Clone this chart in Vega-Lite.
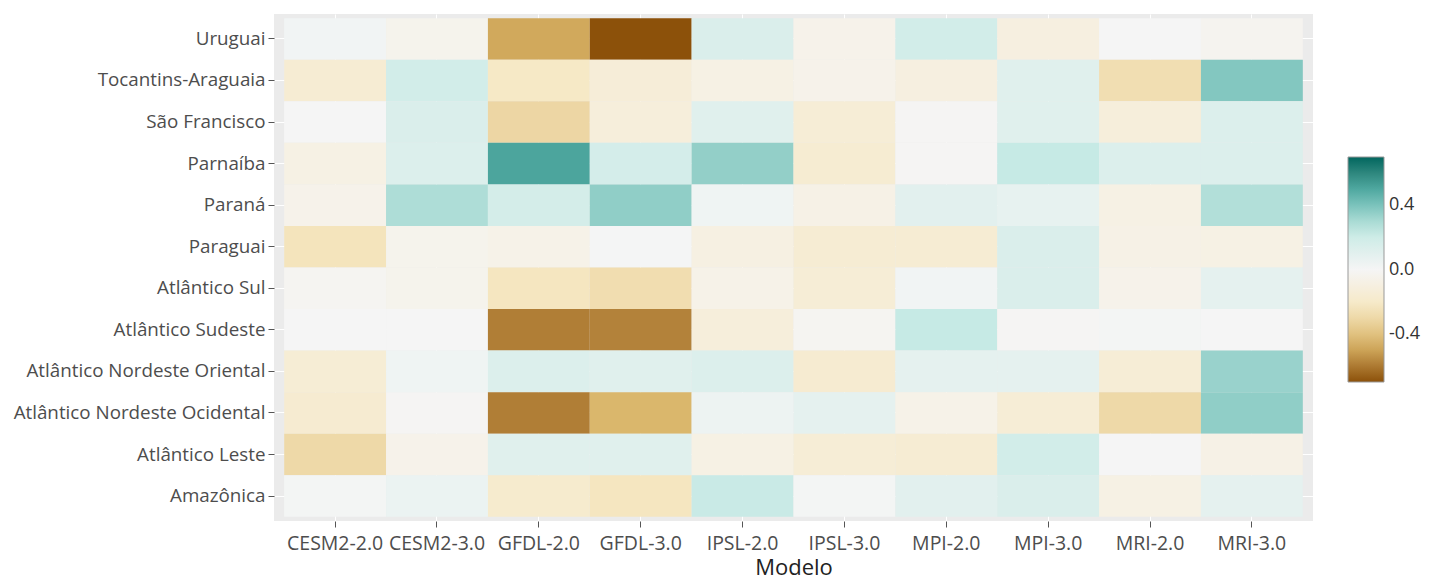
{
  "$schema": "https://vega.github.io/schema/vega-lite/v6.json",
  "width": 1039,
  "height": 507,
  "autosize": {"type": "none"},
  "padding": {"left": 274, "top": 14, "right": 116, "bottom": 62},
  "background": "white",
  "view": {"fill": "#EBEBEB", "stroke": null},
  "config": {
    "font": "Open Sans",
    "axis": {
      "domain": false,
      "grid": true,
      "zindex": 0,
      "gridColor": "#FFFFFF",
      "gridWidth": 1,
      "tickColor": "#555555",
      "tickSize": 6,
      "labelColor": "#4D4D4D",
      "labelFontSize": 18.8,
      "labelFont": "Open Sans",
      "labelLimit": 400,
      "titleFont": "Open Sans",
      "titleColor": "#222222",
      "titleFontWeight": "normal"
    }
  },
  "data": {
    "values": [
      {"r": "Uruguai", "m": "CESM2-2.0", "v": 0.02},
      {"r": "Uruguai", "m": "CESM2-3.0", "v": -0.04},
      {"r": "Uruguai", "m": "GFDL-2.0", "v": -0.49},
      {"r": "Uruguai", "m": "GFDL-3.0", "v": -0.7},
      {"r": "Uruguai", "m": "IPSL-2.0", "v": 0.14},
      {"r": "Uruguai", "m": "IPSL-3.0", "v": -0.05},
      {"r": "Uruguai", "m": "MPI-2.0", "v": 0.18},
      {"r": "Uruguai", "m": "MPI-3.0", "v": -0.1},
      {"r": "Uruguai", "m": "MRI-2.0", "v": 0.0},
      {"r": "Uruguai", "m": "MRI-3.0", "v": -0.03},

      {"r": "Tocantins-Araguaia", "m": "CESM2-2.0", "v": -0.16},
      {"r": "Tocantins-Araguaia", "m": "CESM2-3.0", "v": 0.18},
      {"r": "Tocantins-Araguaia", "m": "GFDL-2.0", "v": -0.22},
      {"r": "Tocantins-Araguaia", "m": "GFDL-3.0", "v": -0.135},
      {"r": "Tocantins-Araguaia", "m": "IPSL-2.0", "v": -0.08},
      {"r": "Tocantins-Araguaia", "m": "IPSL-3.0", "v": -0.05},
      {"r": "Tocantins-Araguaia", "m": "MPI-2.0", "v": -0.1},
      {"r": "Tocantins-Araguaia", "m": "MPI-3.0", "v": 0.11},
      {"r": "Tocantins-Araguaia", "m": "MRI-2.0", "v": -0.275},
      {"r": "Tocantins-Araguaia", "m": "MRI-3.0", "v": 0.385},

      {"r": "São Francisco", "m": "CESM2-2.0", "v": 0.0},
      {"r": "São Francisco", "m": "CESM2-3.0", "v": 0.14},
      {"r": "São Francisco", "m": "GFDL-2.0", "v": -0.31},
      {"r": "São Francisco", "m": "GFDL-3.0", "v": -0.12},
      {"r": "São Francisco", "m": "IPSL-2.0", "v": 0.11},
      {"r": "São Francisco", "m": "IPSL-3.0", "v": -0.145},
      {"r": "São Francisco", "m": "MPI-2.0", "v": -0.01},
      {"r": "São Francisco", "m": "MPI-3.0", "v": 0.11},
      {"r": "São Francisco", "m": "MRI-2.0", "v": -0.12},
      {"r": "São Francisco", "m": "MRI-3.0", "v": 0.13},

      {"r": "Parnaíba", "m": "CESM2-2.0", "v": -0.08},
      {"r": "Parnaíba", "m": "CESM2-3.0", "v": 0.13},
      {"r": "Parnaíba", "m": "GFDL-2.0", "v": 0.51},
      {"r": "Parnaíba", "m": "GFDL-3.0", "v": 0.167},
      {"r": "Parnaíba", "m": "IPSL-2.0", "v": 0.35},
      {"r": "Parnaíba", "m": "IPSL-3.0", "v": -0.165},
      {"r": "Parnaíba", "m": "MPI-2.0", "v": -0.01},
      {"r": "Parnaíba", "m": "MPI-3.0", "v": 0.235},
      {"r": "Parnaíba", "m": "MRI-2.0", "v": 0.13},
      {"r": "Parnaíba", "m": "MRI-3.0", "v": 0.13},

      {"r": "Paraná", "m": "CESM2-2.0", "v": -0.05},
      {"r": "Paraná", "m": "CESM2-3.0", "v": 0.29},
      {"r": "Paraná", "m": "GFDL-2.0", "v": 0.17},
      {"r": "Paraná", "m": "GFDL-3.0", "v": 0.355},
      {"r": "Paraná", "m": "IPSL-2.0", "v": 0.03},
      {"r": "Paraná", "m": "IPSL-3.0", "v": -0.07},
      {"r": "Paraná", "m": "MPI-2.0", "v": 0.1},
      {"r": "Paraná", "m": "MPI-3.0", "v": 0.07},
      {"r": "Paraná", "m": "MRI-2.0", "v": -0.08},
      {"r": "Paraná", "m": "MRI-3.0", "v": 0.28},

      {"r": "Paraguai", "m": "CESM2-2.0", "v": -0.25},
      {"r": "Paraguai", "m": "CESM2-3.0", "v": -0.04},
      {"r": "Paraguai", "m": "GFDL-2.0", "v": -0.06},
      {"r": "Paraguai", "m": "GFDL-3.0", "v": 0.005},
      {"r": "Paraguai", "m": "IPSL-2.0", "v": -0.09},
      {"r": "Paraguai", "m": "IPSL-3.0", "v": -0.16},
      {"r": "Paraguai", "m": "MPI-2.0", "v": -0.16},
      {"r": "Paraguai", "m": "MPI-3.0", "v": 0.14},
      {"r": "Paraguai", "m": "MRI-2.0", "v": -0.07},
      {"r": "Paraguai", "m": "MRI-3.0", "v": -0.08},

      {"r": "Atlântico Sul", "m": "CESM2-2.0", "v": -0.02},
      {"r": "Atlântico Sul", "m": "CESM2-3.0", "v": -0.04},
      {"r": "Atlântico Sul", "m": "GFDL-2.0", "v": -0.24},
      {"r": "Atlântico Sul", "m": "GFDL-3.0", "v": -0.28},
      {"r": "Atlântico Sul", "m": "IPSL-2.0", "v": -0.06},
      {"r": "Atlântico Sul", "m": "IPSL-3.0", "v": -0.145},
      {"r": "Atlântico Sul", "m": "MPI-2.0", "v": 0.02},
      {"r": "Atlântico Sul", "m": "MPI-3.0", "v": 0.14},
      {"r": "Atlântico Sul", "m": "MRI-2.0", "v": -0.05},
      {"r": "Atlântico Sul", "m": "MRI-3.0", "v": 0.08},

      {"r": "Atlântico Sudeste", "m": "CESM2-2.0", "v": 0.0},
      {"r": "Atlântico Sudeste", "m": "CESM2-3.0", "v": 0.0},
      {"r": "Atlântico Sudeste", "m": "GFDL-2.0", "v": -0.59},
      {"r": "Atlântico Sudeste", "m": "GFDL-3.0", "v": -0.58},
      {"r": "Atlântico Sudeste", "m": "IPSL-2.0", "v": -0.12},
      {"r": "Atlântico Sudeste", "m": "IPSL-3.0", "v": -0.02},
      {"r": "Atlântico Sudeste", "m": "MPI-2.0", "v": 0.235},
      {"r": "Atlântico Sudeste", "m": "MPI-3.0", "v": -0.01},
      {"r": "Atlântico Sudeste", "m": "MRI-2.0", "v": 0.01},
      {"r": "Atlântico Sudeste", "m": "MRI-3.0", "v": 0.0},

      {"r": "Atlântico Nordeste Oriental", "m": "CESM2-2.0", "v": -0.15},
      {"r": "Atlântico Nordeste Oriental", "m": "CESM2-3.0", "v": 0.03},
      {"r": "Atlântico Nordeste Oriental", "m": "GFDL-2.0", "v": 0.13},
      {"r": "Atlântico Nordeste Oriental", "m": "GFDL-3.0", "v": 0.11},
      {"r": "Atlântico Nordeste Oriental", "m": "IPSL-2.0", "v": 0.13},
      {"r": "Atlântico Nordeste Oriental", "m": "IPSL-3.0", "v": -0.17},
      {"r": "Atlântico Nordeste Oriental", "m": "MPI-2.0", "v": 0.08},
      {"r": "Atlântico Nordeste Oriental", "m": "MPI-3.0", "v": 0.08},
      {"r": "Atlântico Nordeste Oriental", "m": "MRI-2.0", "v": -0.145},
      {"r": "Atlântico Nordeste Oriental", "m": "MRI-3.0", "v": 0.336},

      {"r": "Atlântico Nordeste Ocidental", "m": "CESM2-2.0", "v": -0.17},
      {"r": "Atlântico Nordeste Ocidental", "m": "CESM2-3.0", "v": -0.01},
      {"r": "Atlântico Nordeste Ocidental", "m": "GFDL-2.0", "v": -0.59},
      {"r": "Atlântico Nordeste Ocidental", "m": "GFDL-3.0", "v": -0.45},
      {"r": "Atlântico Nordeste Ocidental", "m": "IPSL-2.0", "v": 0.04},
      {"r": "Atlântico Nordeste Ocidental", "m": "IPSL-3.0", "v": 0.08},
      {"r": "Atlântico Nordeste Ocidental", "m": "MPI-2.0", "v": -0.06},
      {"r": "Atlântico Nordeste Ocidental", "m": "MPI-3.0", "v": -0.145},
      {"r": "Atlântico Nordeste Ocidental", "m": "MRI-2.0", "v": -0.3},
      {"r": "Atlântico Nordeste Ocidental", "m": "MRI-3.0", "v": 0.355},

      {"r": "Atlântico Leste", "m": "CESM2-2.0", "v": -0.3},
      {"r": "Atlântico Leste", "m": "CESM2-3.0", "v": -0.05},
      {"r": "Atlântico Leste", "m": "GFDL-2.0", "v": 0.11},
      {"r": "Atlântico Leste", "m": "GFDL-3.0", "v": 0.11},
      {"r": "Atlântico Leste", "m": "IPSL-2.0", "v": -0.08},
      {"r": "Atlântico Leste", "m": "IPSL-3.0", "v": -0.145},
      {"r": "Atlântico Leste", "m": "MPI-2.0", "v": -0.16},
      {"r": "Atlântico Leste", "m": "MPI-3.0", "v": 0.18},
      {"r": "Atlântico Leste", "m": "MRI-2.0", "v": 0.0},
      {"r": "Atlântico Leste", "m": "MRI-3.0", "v": -0.07},

      {"r": "Amazônica", "m": "CESM2-2.0", "v": 0.01},
      {"r": "Amazônica", "m": "CESM2-3.0", "v": 0.05},
      {"r": "Amazônica", "m": "GFDL-2.0", "v": -0.18},
      {"r": "Amazônica", "m": "GFDL-3.0", "v": -0.24},
      {"r": "Amazônica", "m": "IPSL-2.0", "v": 0.225},
      {"r": "Amazônica", "m": "IPSL-3.0", "v": 0.01},
      {"r": "Amazônica", "m": "MPI-2.0", "v": 0.1},
      {"r": "Amazônica", "m": "MPI-3.0", "v": 0.14},
      {"r": "Amazônica", "m": "MRI-2.0", "v": -0.08},
      {"r": "Amazônica", "m": "MRI-3.0", "v": 0.08}
    ]
  },
  "mark": {"type": "rect", "zindex": 1},
  "encoding": {
    "x": {
      "field": "m",
      "type": "nominal",
      "sort": ["CESM2-2.0", "CESM2-3.0", "GFDL-2.0", "GFDL-3.0", "IPSL-2.0", "IPSL-3.0", "MPI-2.0", "MPI-3.0", "MRI-2.0", "MRI-3.0"],
      "scale": {"paddingInner": 0, "paddingOuter": 0.1},
      "axis": {
        "title": "Modelo",
        "titleFontSize": 22,
        "titlePadding": 5,
        "labelAngle": 0,
        "labelFontSize": 19.5,
        "labelPadding": 7
      }
    },
    "y": {
      "field": "r",
      "type": "nominal",
      "sort": ["Uruguai", "Tocantins-Araguaia", "São Francisco", "Parnaíba", "Paraná", "Paraguai", "Atlântico Sul", "Atlântico Sudeste", "Atlântico Nordeste Oriental", "Atlântico Nordeste Ocidental", "Atlântico Leste", "Amazônica"],
      "scale": {"paddingInner": 0, "paddingOuter": 0.1},
      "axis": {"title": null, "labelPadding": 3}
    },
    "color": {
      "field": "v",
      "type": "quantitative",
      "scale": {
        "domain": [-0.7, -0.4667, -0.2333, 0, 0.2333, 0.4667, 0.7],
        "range": ["#8c510a", "#d8b365", "#f6e8c3", "#f5f5f5", "#c7eae5", "#5ab4ac", "#01665e"],
        "interpolate": "lab"
      },
      "legend": {
        "title": null,
        "orient": "none",
        "legendX": 1074,
        "legendY": 143,
        "direction": "vertical",
        "gradientLength": 225,
        "gradientThickness": 36,
        "gradientStrokeColor": "#999999",
        "gradientStrokeWidth": 1,
        "values": [-0.4, 0, 0.4],
        "labelExpr": "replace(format(datum.value, '.1f'), '\u2212', '-')",
        "labelFontSize": 18,
        "labelColor": "#333333",
        "labelOffset": 5
      }
    }
  }
}
